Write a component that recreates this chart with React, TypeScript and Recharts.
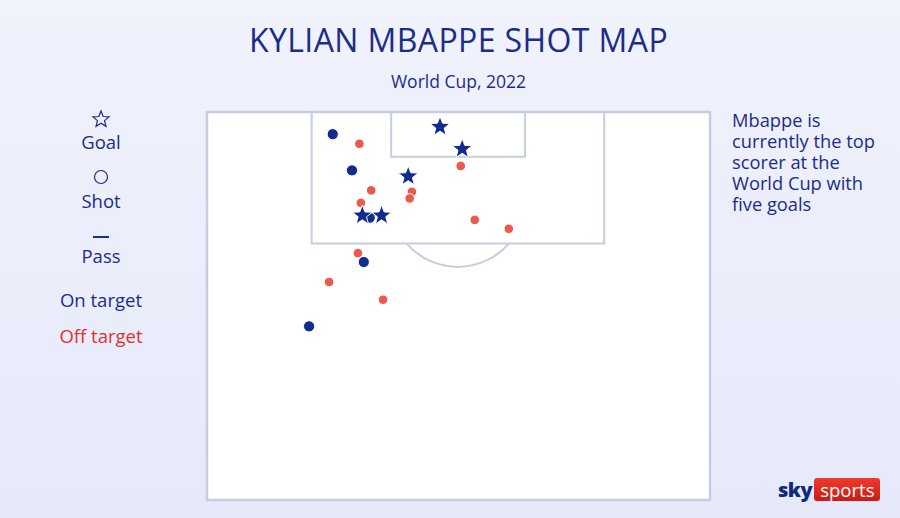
import { ScatterChart, Scatter, XAxis, YAxis, ReferenceArea, ReferenceDot } from "recharts";

// pitch in metres: x across the pitch, y out from the goal line
const PITCH_W = 68;
const PITCH_H = 52.5;

const goals = [
  { x: 31.5, y: 2.0 },
  { x: 34.5, y: 5.0 },
  { x: 27.2, y: 8.7 },
  { x: 21.0, y: 14.0 },
  { x: 23.6, y: 14.0 },
];

const onTarget = [
  { x: 17.0, y: 3.0 },
  { x: 19.6, y: 7.9 },
  { x: 22.0, y: 14.3 },
  { x: 21.2, y: 20.3 },
  { x: 13.8, y: 29.0 },
];

const offTarget = [
  { x: 20.6, y: 4.3 },
  { x: 34.3, y: 7.3 },
  { x: 22.2, y: 10.6 },
  { x: 27.7, y: 10.8 },
  { x: 27.4, y: 11.7 },
  { x: 20.8, y: 12.3 },
  { x: 36.2, y: 14.6 },
  { x: 40.8, y: 15.8 },
  { x: 20.4, y: 19.1 },
  { x: 16.5, y: 23.0 },
  { x: 23.8, y: 25.4 },
];

const legendLabels = ["Goal", "Shot", "Pass"];
const noteLines = ["Mbappe is", "currently the top", "scorer at the", "World Cup with", "five goals"];

const BLUE = "#112c8c";
const RED = "#ea5a4f";
const LINE = "#c7cde0";
const TEXT = "#1a2d88";
const FONT = "'Open Sans', sans-serif";

const PX_PER_M = 503 / PITCH_W;

const starPath = (cx: number, cy: number, outer: number, inner: number) => {
  let d = "";
  for (let i = 0; i < 10; i++) {
    const r = i % 2 === 0 ? outer : inner;
    const a = (Math.PI / 5) * i - Math.PI / 2;
    d += (i === 0 ? "M" : "L") + (cx + r * Math.cos(a)).toFixed(2) + "," + (cy + r * Math.sin(a)).toFixed(2);
  }
  return d + "Z";
};

const Star = (props: any) => (
  <path d={starPath(props.cx, props.cy, 10.5, 4.4)} fill={BLUE} stroke="#fff" strokeWidth={1} />
);

const Dot = ({ cx, cy, fill, r }: any) => (
  <circle cx={cx} cy={cy} r={r} fill={fill} stroke="#fff" strokeWidth={1} />
);

// arc of the penalty area, drawn round the penalty spot
const Arc = ({ cx, cy }: any) => {
  const r = 9.15 * PX_PER_M;
  const dy = 6.0 * PX_PER_M;
  const dx = Math.sqrt(r * r - dy * dy);
  return (
    <path
      d={`M${cx - dx},${cy + dy} A${r},${r} 0 0 0 ${cx + dx},${cy + dy}`}
      fill="none"
      stroke={LINE}
      strokeWidth={2}
    />
  );
};

const symbolTops = [109, 167, 227];
const labelTops = [130, 189, 244];

export default function App() {
  return (
    <div
      style={{
        position: "fixed",
        left: 0,
        top: 0,
        width: 900,
        height: 518,
        background: "linear-gradient(180deg, #f0f2fc 0%, #e6e9f9 100%)",
        fontFamily: FONT,
        color: TEXT,
        overflow: "hidden",
      }}
    >
      <div
        style={{ position: "absolute", top: 18, width: 917, textAlign: "center", fontSize: 32, fontWeight: 500, letterSpacing: 0.4, lineHeight: "44px" }}
      >
        KYLIAN MBAPPE SHOT MAP
      </div>
      <div style={{ position: "absolute", top: 69, width: 917, textAlign: "center", fontSize: 17.5, lineHeight: "24px" }}>
        World Cup, 2022
      </div>

      {legendLabels.map((label, i) => (
        <div key={label}>
          <svg width={20} height={20} style={{ position: "absolute", left: 91, top: symbolTops[i] }}>
            {i === 0 && <path d={starPath(10, 10.5, 8.5, 3.7)} fill="none" stroke={TEXT} strokeWidth={1.2} />}
            {i === 1 && <circle cx={10} cy={10} r={6.5} fill="none" stroke={TEXT} strokeWidth={1.2} />}
            {i === 2 && <line x1={2} x2={18} y1={10} y2={10} stroke={TEXT} strokeWidth={2} />}
          </svg>
          <div
            style={{ position: "absolute", left: 40, width: 122, top: labelTops[i], textAlign: "center", fontSize: 18.5, lineHeight: "24px" }}
          >
            {label}
          </div>
        </div>
      ))}
      <div style={{ position: "absolute", left: 40, width: 122, top: 288, textAlign: "center", fontSize: 18.5, lineHeight: "24px" }}>
        On target
      </div>
      <div
        style={{ position: "absolute", left: 40, width: 122, top: 324, textAlign: "center", fontSize: 18.5, lineHeight: "24px", color: "#e0332f" }}
      >
        Off target
      </div>

      <div style={{ position: "absolute", left: 732, top: 109, fontSize: 18.3, lineHeight: "21px" }}>
        {noteLines.map((l) => (
          <div key={l} style={{ height: 21 }}>
            {l}
          </div>
        ))}
      </div>

      <div style={{ position: "absolute", left: 778, top: 478, display: "flex", alignItems: "center" }}>
        <span style={{ fontWeight: 800, fontSize: 20, color: "#0d2a7c", letterSpacing: -0.5, marginRight: 2, lineHeight: "23px" }}>sky</span>
        <span
          style={{
            background: "linear-gradient(180deg, #ef3a2d, #c81d14)",
            color: "#fff",
            fontSize: 18.5,
            padding: "0 6px 0 6px",
            borderRadius: 3,
            lineHeight: "23px",
          }}
        >
          sports
        </span>
      </div>

      <div style={{ position: "absolute", left: 0, top: 0 }}>
        <ScatterChart width={900} height={518} margin={{ top: 112, right: 190, bottom: 18, left: 207 }}>
          <XAxis type="number" dataKey="x" domain={[0, PITCH_W]} hide />
          <YAxis type="number" dataKey="y" domain={[0, PITCH_H]} reversed hide />
          <ReferenceArea x1={0} x2={PITCH_W} y1={0} y2={PITCH_H} fill="#fff" fillOpacity={1} stroke={LINE} strokeWidth={2.5} />
          <ReferenceArea x1={14.15} x2={53.7} y1={0} y2={17.8} fill="none" stroke={LINE} strokeWidth={2} />
          <ReferenceArea x1={24.9} x2={43.0} y1={0} y2={6.05} fill="none" stroke={LINE} strokeWidth={2} />
          <ReferenceDot x={33.9} y={11.8} r={0} shape={Arc} />
          <Scatter data={offTarget} isAnimationActive={false} shape={(p: any) => <Dot {...p} r={4.8} fill={RED} />} />
          <Scatter data={onTarget} isAnimationActive={false} shape={(p: any) => <Dot {...p} r={5.6} fill={BLUE} />} />
          <Scatter data={goals} isAnimationActive={false} shape={Star} />
        </ScatterChart>
      </div>
    </div>
  );
}
